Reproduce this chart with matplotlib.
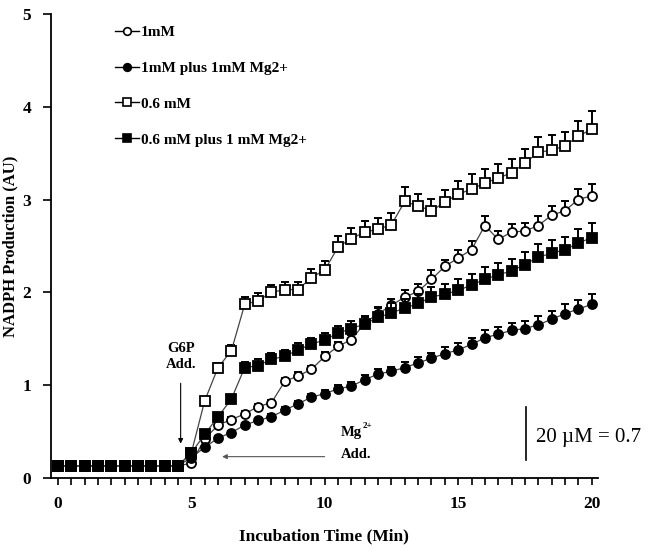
import numpy as np
import matplotlib
matplotlib.use("Agg")
import matplotlib.pyplot as plt
from matplotlib.lines import Line2D

plt.rcParams["font.family"] = ["Liberation Serif", "DejaVu Serif"]

# incubation time (min), one reading every 0.5 min
time_min = np.arange(0, 20.5, 0.5)

base = [0.13] * 10

mm1 = base + [0.16, 0.42, 0.57, 0.63, 0.69, 0.77, 0.81, 1.04, 1.10, 1.17,
              1.31, 1.42, 1.49, 1.67, 1.77, 1.86, 1.95, 2.01, 2.14, 2.28,
              2.37, 2.46, 2.72, 2.57, 2.65, 2.66, 2.72, 2.83, 2.88, 3.00, 3.04]
mm1_err = [0] * 10 + [0, 0.02, 0.03, 0.03, 0.03, 0.03, 0.03, 0.04, 0.04, 0.04,
                      0.05, 0.05, 0.05, 0.06, 0.07, 0.07, 0.08, 0.08, 0.10, 0.07,
                      0.09, 0.09, 0.10, 0.09, 0.09, 0.09, 0.10, 0.10, 0.10, 0.11, 0.13]

mm1_mg = base + [0.22, 0.33, 0.43, 0.49, 0.57, 0.62, 0.66, 0.73, 0.80, 0.87,
                 0.91, 0.96, 0.99, 1.06, 1.12, 1.15, 1.19, 1.24, 1.29, 1.34,
                 1.38, 1.44, 1.51, 1.55, 1.59, 1.61, 1.65, 1.71, 1.77, 1.82, 1.87]
mm1_mg_err = [0] * 10 + [0, 0.01, 0.02, 0.02, 0.02, 0.02, 0.03, 0.03, 0.03, 0.04,
                         0.04, 0.04, 0.04, 0.05, 0.05, 0.05, 0.06, 0.06, 0.06, 0.07,
                         0.07, 0.07, 0.08, 0.08, 0.08, 0.08, 0.09, 0.09, 0.10, 0.10, 0.11]

mm06 = base + [0.27, 0.83, 1.19, 1.37, 1.87, 1.91, 2.00, 2.03, 2.03, 2.16,
               2.24, 2.49, 2.58, 2.65, 2.68, 2.73, 2.98, 2.93, 2.88, 2.97,
               3.06, 3.11, 3.18, 3.23, 3.29, 3.39, 3.51, 3.53, 3.58, 3.68, 3.76]
mm06_err = [0] * 10 + [0, 0.03, 0.05, 0.06, 0.08, 0.08, 0.08, 0.08, 0.08, 0.09,
                       0.10, 0.12, 0.11, 0.12, 0.12, 0.13, 0.15, 0.13, 0.13, 0.13,
                       0.14, 0.16, 0.15, 0.15, 0.15, 0.15, 0.16, 0.17, 0.15, 0.17, 0.19]

mm06_mg = base + [0.27, 0.47, 0.66, 0.85, 1.19, 1.21, 1.28, 1.31, 1.38, 1.44,
                  1.49, 1.56, 1.61, 1.66, 1.73, 1.78, 1.83, 1.88, 1.95, 1.98,
                  2.02, 2.08, 2.14, 2.19, 2.23, 2.30, 2.38, 2.42, 2.46, 2.53, 2.59]
mm06_mg_err = [0] * 10 + [0, 0.02, 0.03, 0.04, 0.06, 0.07, 0.07, 0.07, 0.07, 0.07,
                          0.07, 0.08, 0.08, 0.09, 0.10, 0.10, 0.10, 0.10, 0.11, 0.11,
                          0.12, 0.12, 0.13, 0.13, 0.13, 0.13, 0.14, 0.14, 0.14, 0.15, 0.16]

series = [
    ("1mM", mm1, mm1_err, "o", "white"),
    ("1mM plus 1mM Mg2+", mm1_mg, mm1_mg_err, "o", "black"),
    ("0.6 mM", mm06, mm06_err, "s", "white"),
    ("0.6 mM plus 1 mM Mg2+", mm06_mg, mm06_mg_err, "s", "black"),
]

fig = plt.figure(figsize=(6.54, 5.56), dpi=100)
ax = fig.add_axes([0.0775, 0.1403, 0.8365, 0.8347])

handles = []
for i, (name, vals, err, mk, face) in enumerate(series):
    vals = np.array(vals)
    err = np.array(err)
    ax.errorbar(time_min, vals, yerr=[np.zeros_like(err), err], fmt="none",
                ecolor="black", elinewidth=1.4, capsize=3, capthick=1.4, zorder=2 + i)
    ax.plot(time_min, vals, color="#444444", lw=0.9, marker=mk, ms=6.5,
            mfc=face, mec="black", mew=1.3, zorder=2.5 + i)
    handles.append(Line2D([], [], color="black", lw=1.0, marker=mk, ms=5.5,
                          mfc=face, mec="black", mew=1.2))

ax.set_xlim(-0.27, 20.23)
ax.set_ylim(0, 5)
ax.spines["top"].set_visible(False)
ax.spines["right"].set_visible(False)
ax.spines["left"].set_linewidth(1.3)
ax.spines["bottom"].set_linewidth(1.3)
ax.set_xticks([0, 5, 10, 15, 20])
ax.set_xticks(np.arange(0, 20.5, 0.5), minor=True)
ax.set_yticks([0, 1, 2, 3, 4, 5])
ax.tick_params(axis="both", which="both", direction="out", width=1.2,
               labelsize=12.5, pad=8)
ax.tick_params(axis="x", which="both", length=5)
ax.tick_params(axis="y", length=6)
for lab in ax.get_xticklabels() + ax.get_yticklabels():
    lab.set_fontweight("bold")

ax.set_xlabel("Incubation Time (Min)", fontsize=12.5, fontweight="bold", labelpad=12)
ax.set_ylabel("NADPH Production (AU)", fontsize=12, fontweight="bold", labelpad=3)

ax.legend(handles, [s[0] for s in series], loc="upper left",
          bbox_to_anchor=(0.092, 1.005), frameon=False, handlelength=1.6,
          handletextpad=0.1, labelspacing=1.45,
          prop={"weight": "bold", "size": 11})

# G6P addition
ax.annotate("", xy=(4.6, 0.34), xytext=(4.6, 1.05),
            arrowprops=dict(arrowstyle="-|>", color="black", lw=0.8,
                            mutation_scale=7))
ax.text(4.6, 1.31, "G6P\nAdd.", ha="center", va="center", fontsize=10.5,
        fontweight="bold", linespacing=1.3)

# Mg addition
ax.annotate("", xy=(6.05, 0.23), xytext=(10.1, 0.23),
            arrowprops=dict(arrowstyle="-|>", color="#555555", lw=0.8,
                            mutation_scale=7))
ax.text(10.6, 0.49, "Mg", ha="left", va="center", fontsize=10.5, fontweight="bold")
ax.text(11.42, 0.56, "2+", ha="left", va="center", fontsize=6.5, fontweight="bold")
ax.text(10.6, 0.25, "Add.", ha="left", va="center", fontsize=10.5, fontweight="bold")

# scale bar
ax.plot([17.55, 17.55], [0.19, 0.77], color="black", lw=1.2)
ax.text(17.9, 0.44, "20 \u00b5M = 0.7", ha="left", va="center", fontsize=15)

fig.savefig("out.png", dpi=100)
